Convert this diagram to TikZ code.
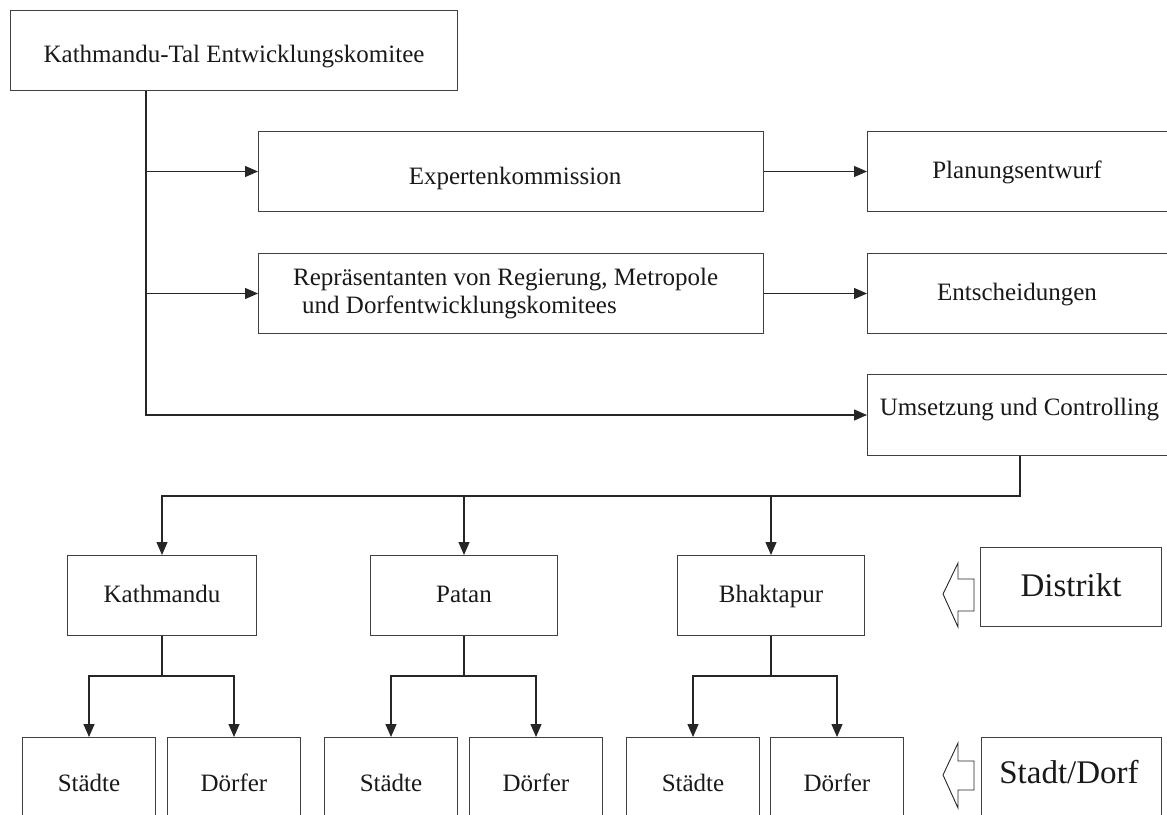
\documentclass[tikz,border=0pt]{standalone}
\usepackage{fontspec}
\setmainfont{Liberation Serif}
\usetikzlibrary{arrows.meta}
\begin{document}
\begin{tikzpicture}[x=1pt,y=-1pt,
  box/.style={draw=black!75, line width=1pt, rectangle, inner sep=0pt, anchor=north west},
  txt/.style={font=\fontsize{25}{28}\selectfont, text=black!90, inner sep=0pt, anchor=base},
  big/.style={font=\fontsize{33}{36}\selectfont, text=black!90, inner sep=0pt, anchor=base},
  link/.style={draw=black!85, line width=1.2pt},
  arr/.style={link, -{Triangle[length=13pt,width=11pt]}},
  hollow/.style={draw=black!85, line width=0.9pt, fill=white, line join=miter}
]
\useasboundingbox (0,0) rectangle (1167,814);
\clip (0,0) rectangle (1167,814);

% upper part: committee and its bodies
\node[box, minimum width=447pt, minimum height=80pt] (kvdc) at (10,10) {};
\node[txt] (kvdct) at (234,62) {Kathmandu-Tal Entwicklungskomitee};

\node[box, minimum width=505pt, minimum height=80pt] (exp) at (258,131) {};
\node[txt] (expt) at (515,184) {Expertenkommission};

\node[box, minimum width=505pt, minimum height=80pt] (rep) at (258,253) {};
\node[txt, anchor=base west] (rept1) at (293,285) {Repräsentanten von Regierung, Metropole};
\node[txt, anchor=base west] (rept2) at (302,313) {und Dorfentwicklungskomitees};

\node[box, minimum width=305pt, minimum height=80pt] (plan) at (867,131) {};
\node[txt] (plant) at (1017,178) {Planungsentwurf};

\node[box, minimum width=305pt, minimum height=80pt] (ent) at (867,253) {};
\node[txt] (entt) at (1017,300) {Entscheidungen};

\node[box, minimum width=305pt, minimum height=81pt] (ums) at (867,374) {};
\node[txt] (umst) at (1019.5,415) {Umsetzung und Controlling};

% districts
\node[box, minimum width=189pt, minimum height=80pt] (kat) at (67,555) {};
\node[txt] (katt) at (kat.center |- 0,602) {Kathmandu};
\node[box, minimum width=187pt, minimum height=80pt] (pat) at (370,555) {};
\node[txt] (patt) at (pat.center |- 0,602) {Patan};
\node[box, minimum width=187pt, minimum height=80pt] (bha) at (677,555) {};
\node[txt] (bhat) at (bha.center |- 0,602) {Bhaktapur};

% towns and villages
\node[box, minimum width=133pt, minimum height=95pt] (ks) at (22,737) {};
\node[box, minimum width=133pt, minimum height=95pt] (kd) at (167,737) {};
\node[box, minimum width=133pt, minimum height=95pt] (ps) at (324,737) {};
\node[box, minimum width=133pt, minimum height=95pt] (pd) at (469,737) {};
\node[box, minimum width=133pt, minimum height=95pt] (bs) at (626,737) {};
\node[box, minimum width=133pt, minimum height=95pt] (bd) at (770,737) {};
\foreach \n/\t in {ks/Städte, kd/Dörfer, ps/Städte, pd/Dörfer, bs/Städte, bd/Dörfer}
  \node[txt] (\n t) at (\n.center |- 0,791) {\t};

% level labels
\node[box, minimum width=181pt, minimum height=79pt] (dis) at (980,547) {};
\node[big] (dist) at (1071,596) {Distrikt};
\node[box, minimum width=180pt, minimum height=95pt] (sd) at (981,737) {};
\node[big] (sdt) at (1069,783) {Stadt/Dorf};

\draw[hollow] (943,594) -- (958,563) -- (958,579) -- (974,579) -- (974,611)
  -- (958,611) -- (958,627) -- cycle;
\draw[hollow] (943,775) -- (958,743) -- (958,761) -- (974,761) -- (974,790)
  -- (958,790) -- (958,808) -- cycle;

% connectors
\coordinate (tr) at ([xshift=136pt]kvdc.south west);
\draw[arr] (tr) |- (ums.west);
\draw[arr] (tr |- exp.west) -- (exp.west);
\draw[arr] (tr |- rep.west) -- (rep.west);
\draw[arr] (exp.east) -- (plan.west);
\draw[arr] (rep.east) -- (ent.west);

\coordinate (bus) at ([yshift=-40pt]ums.south);
\draw[arr] (ums.south) |- (kat.north |- bus) -- (kat.north);
\draw[arr] (pat.north |- bus) -- (pat.north);
\draw[arr] (bha.north |- bus) -- (bha.north);

\foreach \d/\s/\v in {kat/ks/kd, pat/ps/pd, bha/bs/bd} {
  \coordinate (\d b) at ([yshift=-40pt]\d.south);
  \draw[link] (\d.south) -- (\d b);
  \draw[arr] (\d b) -| (\s.north);
  \draw[arr] (\d b) -| (\v.north);
}
\end{tikzpicture}
\end{document}
